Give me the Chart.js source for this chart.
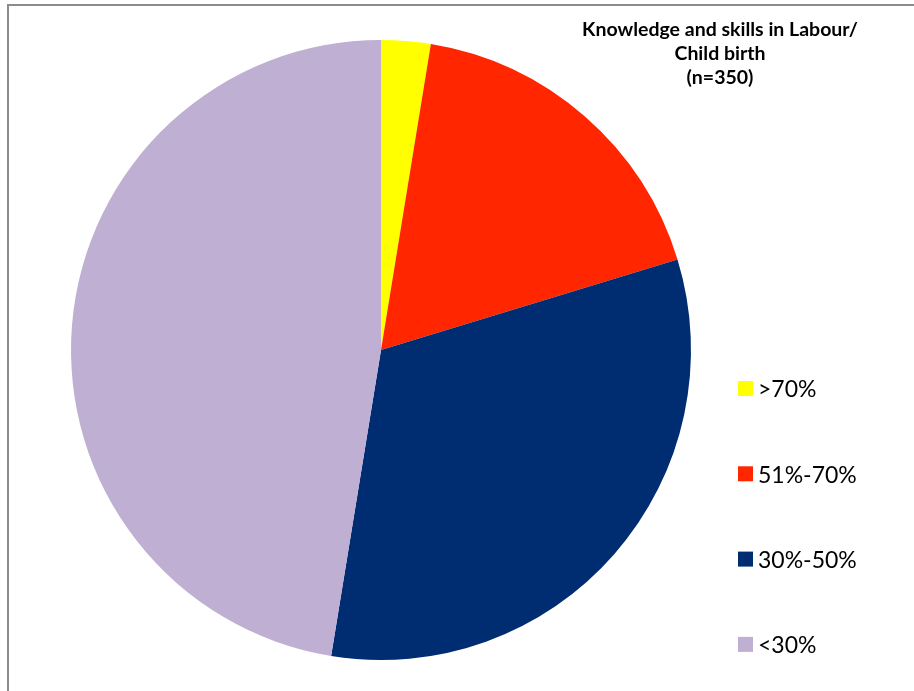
<!DOCTYPE html>
<html>
<head>
<meta charset="utf-8">
<script src="https://cdn.jsdelivr.net/npm/chart.js@4"></script>
<style>
  html, body { margin: 0; padding: 0; background: #fff; }
  #wrap { width: 914px; height: 691px; position: relative; }
</style>
</head>
<body>
<div id="wrap"><canvas id="pieChart"></canvas></div>
<script>
const labels = ['>70%', '51%-70%', '30%-50%', '<30%'];
const counts = [9, 62, 113, 166];
const colors = ['#FFFF00', '#FF2600', '#002D72', '#BFB0D3'];
const titleLines = ['Knowledge and skills in Labour/', 'Child birth', '(n=350)'];

// frame, heading and the legend on the right are drawn by hand
const extras = {
    id: 'extras',
    afterDraw(chart) {
        const c = chart.ctx;
        c.save();
        c.strokeStyle = '#8c8c8c';
        c.lineWidth = 2;
        c.beginPath();
        c.moveTo(8, 691);
        c.lineTo(8, 5);
        c.lineTo(914, 5);
        c.stroke();

        c.fillStyle = '#000';
        c.textAlign = 'center';
        c.textBaseline = 'middle';
        c.font = 'bold 19.5px Lato';
        titleLines.forEach((t, i) => c.fillText(t, 720, 30 + i * 24));

        c.textAlign = 'left';
        c.font = '23px Lato';
        labels.forEach((l, i) => {
            const y = 389 + i * 85.3;
            c.fillStyle = colors[i];
            c.fillRect(738, y - 8, 15, 15);
            c.fillStyle = '#000';
            c.fillText(l, 758, y + 1);
        });
        c.restore();
    }
};

new Chart(document.getElementById('pieChart'), {
    type: 'pie',
    data: {
        labels: labels,
        datasets: [{
            data: counts,
            backgroundColor: colors,
            borderWidth: 0
        }]
    },
    options: {
        responsive: true,
        maintainAspectRatio: false,
        animation: false,
        layout: { padding: { left: 71, right: 223, top: 40, bottom: 31 } },
        plugins: {
            legend: { display: false },
            title: { display: false },
            tooltip: { enabled: false }
        }
    },
    plugins: [extras]
});
</script>
</body>
</html>
